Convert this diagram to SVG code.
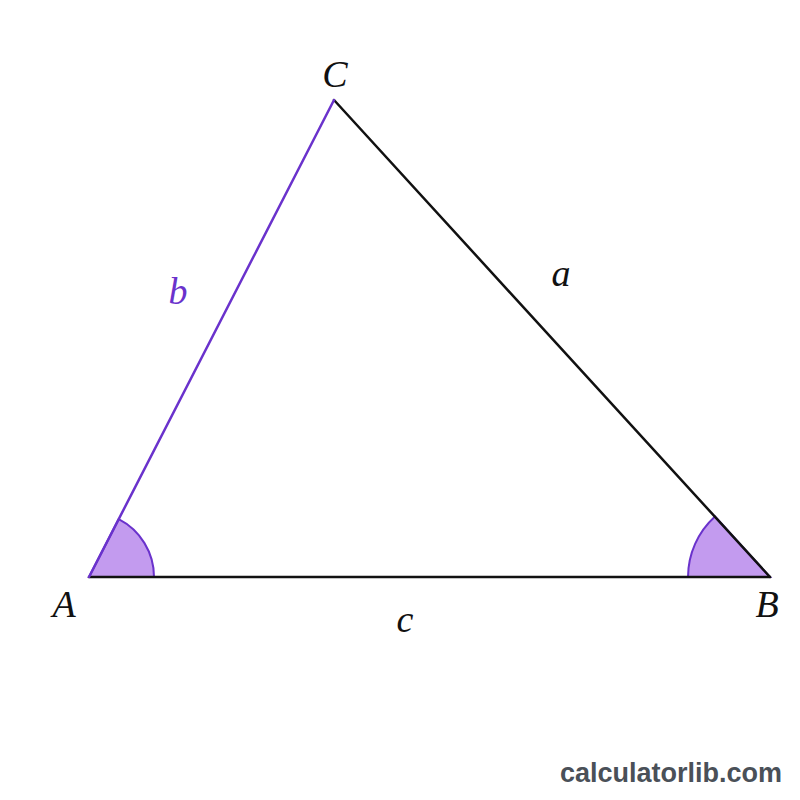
<svg xmlns="http://www.w3.org/2000/svg" width="800" height="800" viewBox="0 0 800 800">
<style>
.lbl{font-family:"Liberation Serif","DejaVu Serif",serif;font-style:italic;font-size:38px;text-anchor:middle;fill:#111}
.purple{fill:#6a32cc}
.edge{stroke:#111;stroke-width:2.5;fill:none;stroke-linecap:round}
.edgep{stroke:#6a32cc;stroke-width:2.5;fill:none;stroke-linecap:round}
.ang{fill:#c39bef;stroke:#6a32cc;stroke-width:2}
.wm{font-family:"Liberation Sans","DejaVu Sans",sans-serif;font-weight:bold;font-size:27px;fill:#4a5058;text-anchor:end}
</style>
<rect width="800" height="800" fill="#ffffff"/>
<g id="angles">
<path class="ang" d="M89,577 L154,577 A65,65 0 0 0 118.7,519.2 Z"/>
<path class="ang" d="M770,577 L688,577 A82,82 0 0 1 715,516.5 Z"/>
</g>
<g id="connectors">
<line class="edge" x1="89" y1="577" x2="770" y2="577"/>
<line class="edge" x1="770" y1="577" x2="334" y2="100"/>
<line class="edgep" x1="89" y1="577" x2="334" y2="100"/>
</g>
<g id="vertex-A"><text class="lbl" x="64" y="617">A</text></g>
<g id="vertex-B"><text class="lbl" x="767" y="617">B</text></g>
<g id="vertex-C"><text class="lbl" x="335" y="87">C</text></g>
<g id="side-a"><text class="lbl" x="561" y="286">a</text></g>
<g id="side-b"><text class="lbl purple" x="178" y="304">b</text></g>
<g id="side-c"><text class="lbl" x="405" y="632">c</text></g>
<text class="wm" x="782" y="782">calculatorlib.com</text>
</svg>
